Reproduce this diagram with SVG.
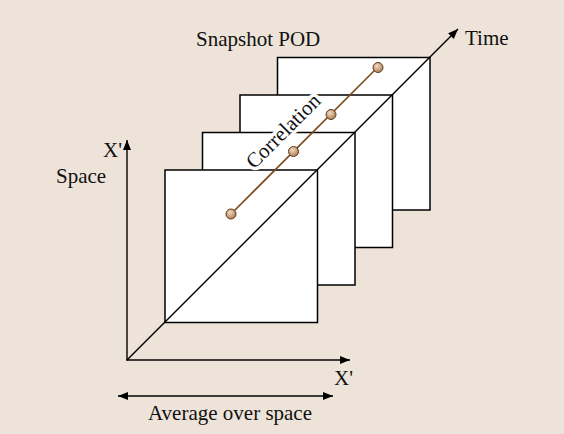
<svg xmlns="http://www.w3.org/2000/svg" width="564" height="434" viewBox="0 0 564 434">
<defs>
<style>
.sq{fill:#fff;stroke:#000;stroke-width:1.5}
.ln{stroke:#000;stroke-width:1.4;fill:none}
.t{font-family:"Liberation Serif","Times New Roman",serif;font-size:21px;fill:#111}
.ball{fill:url(#bg);stroke:#5a3a1e;stroke-width:1}
</style>
<marker id="ah" viewBox="0 0 10 10" refX="10" refY="5" markerWidth="10" markerHeight="10" markerUnits="userSpaceOnUse" orient="auto-start-reverse">
<path d="M0,1 L10,5 L0,9 Z" fill="#000"/>
</marker>
<radialGradient id="bg" cx="0.4" cy="0.35" r="0.7">
<stop offset="0" stop-color="#f3dcc2"/>
<stop offset="1" stop-color="#a8774c"/>
</radialGradient>
</defs>
<rect x="0" y="0" width="564" height="434" fill="#ede3d8"/>
<g id="snap4"><rect class="sq" x="277.5" y="57.5" width="152.5" height="152.5"/></g>
<g id="snap3"><rect class="sq" x="240" y="95" width="152.5" height="152.5"/></g>
<g id="snap2"><rect class="sq" x="202.5" y="132.5" width="152.5" height="152.5"/></g>
<g id="snap1"><rect class="sq" x="165" y="170" width="152.5" height="152.5"/></g>
<g id="connectors">
<line class="ln" x1="127" y1="360" x2="458" y2="29" marker-end="url(#ah)"/>
<line class="ln" x1="127" y1="360.5" x2="127" y2="140" marker-end="url(#ah)"/>
<line class="ln" x1="126.5" y1="360" x2="350" y2="360" marker-end="url(#ah)"/>
<line class="ln" x1="118" y1="396" x2="333" y2="396" marker-start="url(#ah)" marker-end="url(#ah)"/>
</g>
<g id="correlation">
<text class="t" x="0" y="0" text-anchor="middle" transform="translate(288,136) rotate(-45)" stroke="#fff" stroke-width="7" paint-order="stroke" stroke-linejoin="round">Correlation</text>
<line x1="231" y1="214" x2="378" y2="67" stroke="#7a4a1c" stroke-width="1.6"/>
<circle class="ball" cx="231" cy="214" r="5"/>
<circle class="ball" cx="293.5" cy="151.5" r="5"/>
<circle class="ball" cx="331" cy="114.5" r="5"/>
<circle class="ball" cx="378" cy="67.5" r="5"/>
</g>
<g id="labels">
<text class="t" x="196" y="46">Snapshot POD</text>
<text class="t" x="465" y="45">Time</text>
<text class="t" x="103" y="157">X'</text>
<text class="t" x="56" y="183">Space</text>
<text class="t" x="334" y="385">X'</text>
<text class="t" x="148" y="420">Average over space</text>
</g>
</svg>
